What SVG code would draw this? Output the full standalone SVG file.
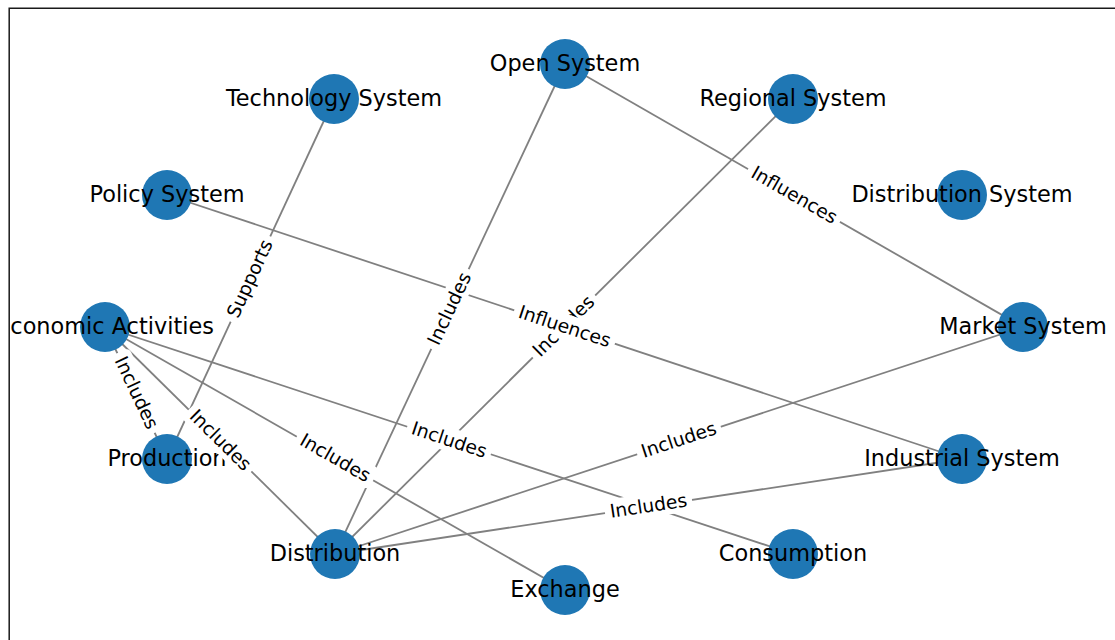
<svg xmlns="http://www.w3.org/2000/svg" width="1115" height="640" viewBox="0 0 1115 640">
<defs>
<clipPath id="axclip"><rect x="9" y="8" width="1120" height="640"/></clipPath>
<style>
.edge{stroke:#808080;stroke-width:1.8;fill:none}
.node circle{fill:#1f77b4}
.node text{font-family:"DejaVu Sans","Liberation Sans",sans-serif;font-size:22.4px;fill:#000;text-anchor:middle}
.elabel rect{fill:#fff;stroke:none}
.elabel text{font-family:"DejaVu Sans","Liberation Sans",sans-serif;font-size:18.7px;fill:#000;text-anchor:middle}
</style>
</defs>
<rect x="0" y="0" width="1115" height="640" fill="#fff"/>
<g clip-path="url(#axclip)">
<g id="connectors">
<line class="edge" x1="334" y1="99" x2="167" y2="459"/>
<line class="edge" x1="167" y1="195" x2="962" y2="459"/>
<line class="edge" x1="565" y1="64" x2="335" y2="554"/>
<line class="edge" x1="565" y1="64" x2="1023" y2="327"/>
<line class="edge" x1="793" y1="99" x2="335" y2="554"/>
<line class="edge" x1="105" y1="327" x2="167" y2="459"/>
<line class="edge" x1="105" y1="327" x2="335" y2="554"/>
<line class="edge" x1="105" y1="327" x2="565" y2="590"/>
<line class="edge" x1="105" y1="327" x2="793" y2="554"/>
<line class="edge" x1="335" y1="554" x2="1023" y2="327"/>
<line class="edge" x1="335" y1="554" x2="962" y2="459"/>
</g>
<g id="node-technology-system" class="node"><circle cx="334" cy="99" r="25"/><text x="334" y="106">Technology System</text></g>
<g id="node-policy-system" class="node"><circle cx="167" cy="195" r="25"/><text x="167" y="202">Policy System</text></g>
<g id="node-open-system" class="node"><circle cx="565" cy="64" r="25"/><text x="565" y="71">Open System</text></g>
<g id="node-regional-system" class="node"><circle cx="793" cy="99" r="25"/><text x="793" y="106">Regional System</text></g>
<g id="node-distribution-system" class="node"><circle cx="962" cy="195" r="25"/><text x="962" y="202">Distribution System</text></g>
<g id="node-economic-activities" class="node"><circle cx="105" cy="327" r="25"/><text x="105" y="334">Economic Activities</text></g>
<g id="node-market-system" class="node"><circle cx="1023" cy="327" r="25"/><text x="1023" y="334">Market System</text></g>
<g id="node-production" class="node"><circle cx="167" cy="459" r="25"/><text x="167" y="466">Production</text></g>
<g id="node-industrial-system" class="node"><circle cx="962" cy="459" r="25"/><text x="962" y="466">Industrial System</text></g>
<g id="node-distribution" class="node"><circle cx="335" cy="554" r="25"/><text x="335" y="561">Distribution</text></g>
<g id="node-consumption" class="node"><circle cx="793" cy="554" r="25"/><text x="793" y="561">Consumption</text></g>
<g id="node-exchange" class="node"><circle cx="565" cy="590" r="25"/><text x="565" y="597">Exchange</text></g>
<g id="connector-labels">
<g class="elabel" transform="translate(250.5,279) rotate(-65.1)"><rect x="-47" y="-13" width="94" height="24" rx="5"/><text y="5.6">Supports</text></g>
<g class="elabel" transform="translate(450,309) rotate(-64.9)"><rect x="-44" y="-13" width="88" height="24" rx="5"/><text y="5.6">Includes</text></g>
<g class="elabel" transform="translate(794,195.5) rotate(29.9)"><rect x="-53" y="-13" width="106" height="24" rx="5"/><text y="5.6">Influences</text></g>
<g class="elabel" transform="translate(564,326.5) rotate(-44.8)"><rect x="-44" y="-13" width="88" height="24" rx="5"/><text y="5.6">Includes</text></g>
<g class="elabel" transform="translate(564.5,327) rotate(18.4)"><rect x="-53" y="-13" width="106" height="24" rx="5"/><text y="5.6">Influences</text></g>
<g class="elabel" transform="translate(136,393) rotate(64.8)"><rect x="-44" y="-13" width="88" height="24" rx="5"/><text y="5.6">Includes</text></g>
<g class="elabel" transform="translate(220,440.5) rotate(44.6)"><rect x="-44" y="-13" width="88" height="24" rx="5"/><text y="5.6">Includes</text></g>
<g class="elabel" transform="translate(335,458.5) rotate(29.8)"><rect x="-44" y="-13" width="88" height="24" rx="5"/><text y="5.6">Includes</text></g>
<g class="elabel" transform="translate(449,440.5) rotate(18.3)"><rect x="-44" y="-13" width="88" height="24" rx="5"/><text y="5.6">Includes</text></g>
<g class="elabel" transform="translate(679,440.5) rotate(-18.3)"><rect x="-44" y="-13" width="88" height="24" rx="5"/><text y="5.6">Includes</text></g>
<g class="elabel" transform="translate(648.5,506.5) rotate(-8.6)"><rect x="-44" y="-13" width="88" height="24" rx="5"/><text y="5.6">Includes</text></g>
</g>
</g>
<path d="M9.2 650 V8.3 H1125" fill="none" stroke="#1a1a1a" stroke-width="1.5"/>
</svg>
